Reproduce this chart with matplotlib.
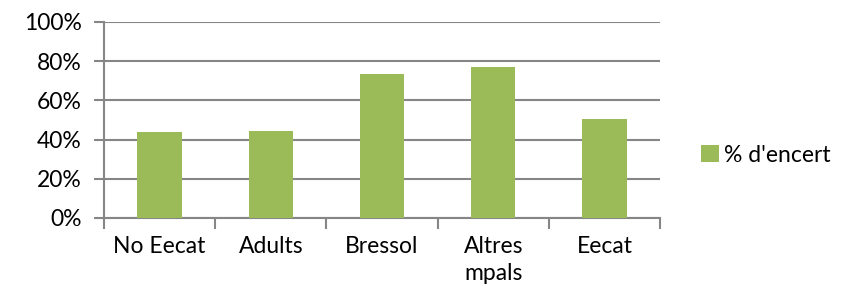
import matplotlib
matplotlib.use("Agg")
import matplotlib.pyplot as plt
import numpy as np

categories = ["No Eecat", "Adults", "Bressol", "Altres\nmpals", "Eecat"]
values = [43.9, 44.4, 73.5, 77.0, 50.5]
yticks = [0, 20, 40, 60, 80, 100]
series_name = "% d'encert"

plt.rcParams['font.family'] = ['Lato', 'DejaVu Sans']
FS = 16.5

fig = plt.figure(figsize=(8.42, 2.96), dpi=100)
ax = fig.add_axes([104/842, 1-218/296, (660-104)/842, (218-22)/296])

x = np.arange(len(categories))
ax.bar(x, values, width=0.4, color="#9BBB59", zorder=3, label=series_name)
ax.set_xlim(-0.5, len(categories) - 0.5)
ax.set_ylim(0, 100)
ax.set_yticks(yticks)
ax.set_yticklabels([f"{v}%" for v in yticks], fontsize=FS)
ax.yaxis.grid(True, color="#868686", linewidth=1.5, zorder=0)
ax.set_xticks(np.arange(-0.5, len(categories), 1.0))
ax.set_xticklabels([])
ax.set_xticks(x, minor=True)
ax.set_xticklabels(categories, minor=True, fontsize=FS, linespacing=1.35)
ax.tick_params(axis='x', which='minor', length=0, pad=13)
ax.tick_params(axis='x', which='major', length=8, width=1.5, color="#868686")
ax.tick_params(axis='y', length=7, width=1.5, color="#868686", pad=9)
for s in ["top", "right"]:
    ax.spines[s].set_visible(False)
for s in ["left", "bottom"]:
    ax.spines[s].set_color("#868686")
    ax.spines[s].set_linewidth(1.5)

leg = fig.legend(loc="center left", bbox_to_anchor=(701/842, 1-155/296), frameon=False,
                 fontsize=FS, handlelength=0.8, handleheight=0.8, handletextpad=0.22,
                 borderaxespad=0, borderpad=0)

fig.savefig("out.png", dpi=100)
